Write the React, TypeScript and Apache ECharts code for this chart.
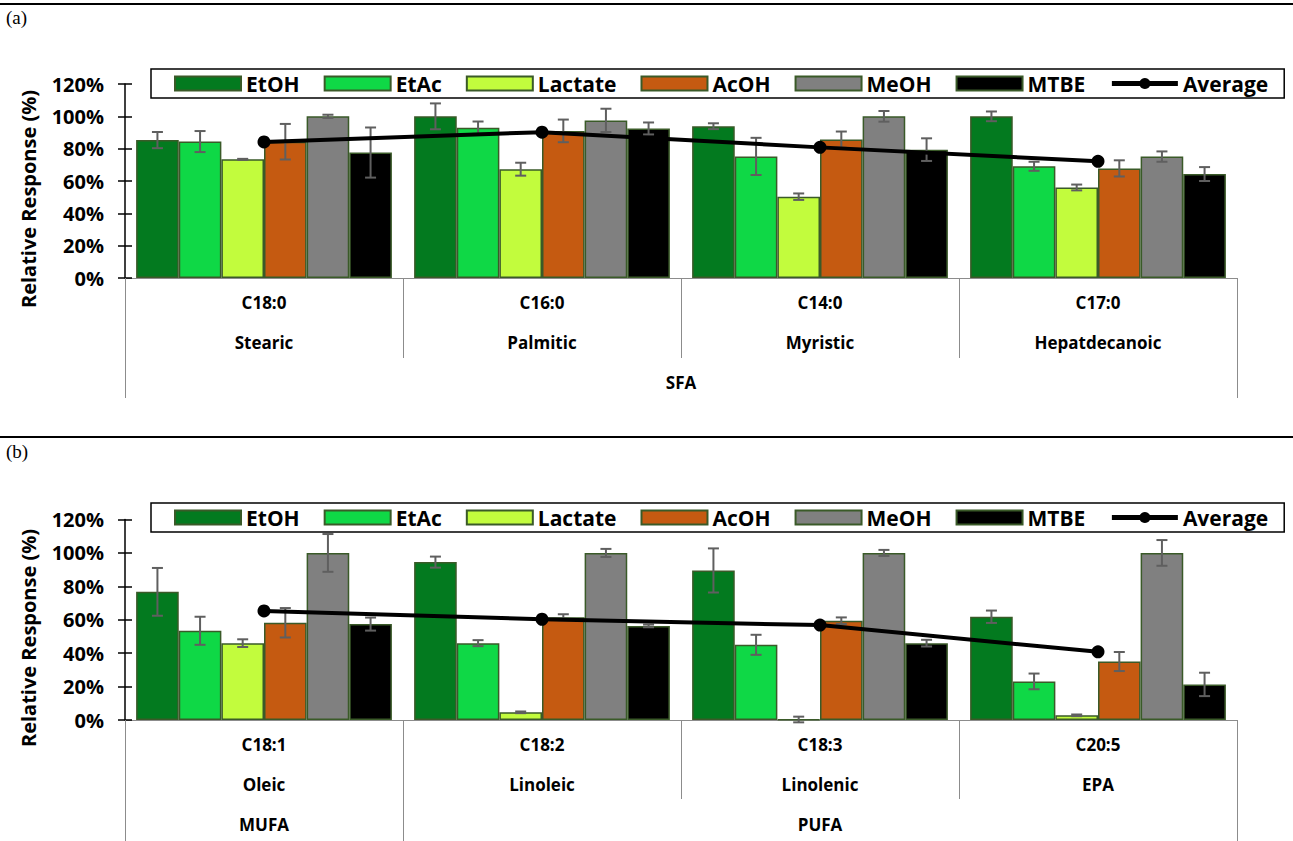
import React, { useEffect, useRef } from "react";
import * as echarts from "echarts";

const FONT = "'Open Sans', Lato, sans-serif";

const solvents = ["EtOH", "EtAc", "Lactate", "AcOH", "MeOH", "MTBE"];
const barColors = ["#037A1F", "#0FD846", "#C2FC3D", "#C55A11", "#808080", "#000000"];

// Panel (a)
const catsA = ["C18:0", "C16:0", "C14:0", "C17:0"];
const namesA = ["Stearic", "Palmitic", "Myristic", "Hepatdecanoic"];
const groupsA = ["SFA"];
const etohA = [85.3, 100, 93.9, 100];
const etacA = [84.4, 93, 75.2, 69.1];
const lactateA = [73.4, 67.3, 50.3, 56];
const acohA = [84.3, 91, 85.6, 67.8];
const meohA = [100, 97.5, 100, 75.1];
const mtbeA = [77.6, 92.5, 79.4, 64.3];
const etohErrA = [5, 8, 1.8, 3];
const etacErrA = [6.5, 3.8, 11.5, 2.8];
const lactateErrA = [0.3, 4, 2, 1.8];
const acohErrA = [11, 7, 5, 5];
const meohErrA = [1, 7.2, 3.3, 3.2];
const mtbeErrA = [15.5, 3.7, 7, 4.3];
const avgA = [84.2, 90.2, 80.8, 72.2];

// Panel (b)
const catsB = ["C18:1", "C18:2", "C18:3", "C20:5"];
const namesB = ["Oleic", "Linoleic", "Linolenic", "EPA"];
const groupsB = ["MUFA", "", "PUFA", ""];
const etohB = [76.7, 94.5, 89.5, 61.8];
const etacB = [53.4, 46, 45, 23.1];
const lactateB = [46, 4.6, 0.3, 2.8];
const acohB = [58.2, 61.5, 59.4, 35];
const meohB = [100, 100, 100, 100];
const mtbeB = [57.4, 56.3, 46, 21.3];
const etohErrB = [14.3, 3.3, 13.2, 3.7];
const etacErrB = [8.4, 1.8, 6, 4.7];
const lactateErrB = [2.3, 0.5, 1.7, 0.5];
const acohErrB = [8.8, 1.8, 2, 5.7];
const meohErrB = [11.3, 2.4, 1.8, 7.7];
const mtbeErrB = [3.9, 0.8, 2, 7];
const avgB = [65.3, 60.3, 56.8, 40.8];

const yTicks = [0, 20, 40, 60, 80, 100, 120];

const CAT_GAP = 0.08;

function buildPanel(p: any) {
  const g = p.gridIndex;
  const xBase = g * 3;
  const yBase = g * 2;
  const xAxes = [
    {
      type: "category",
      gridIndex: g,
      position: "bottom",
      data: p.cats,
      axisLine: { show: true, lineStyle: { color: "#8c8c8c", width: 1 } },
      axisTick: { show: true, interval: 0, length: p.innerTick, lineStyle: { color: "#8c8c8c", width: 1 } },
      axisLabel: { interval: 0, margin: 16, fontSize: 17, fontWeight: "bold", color: "#000", fontFamily: FONT },
      splitLine: { show: false },
    },
    {
      type: "category",
      gridIndex: g,
      position: "bottom",
      data: p.names,
      axisLine: { show: false },
      axisTick: { show: false },
      axisLabel: { interval: 0, margin: 56, fontSize: 17, fontWeight: "bold", color: "#000", fontFamily: FONT },
      splitLine: { show: false },
    },
    {
      type: "category",
      gridIndex: g,
      position: "bottom",
      data: p.groups,
      axisLine: { show: false },
      axisTick: { show: true, interval: p.groupTickInterval, length: p.outerTick, lineStyle: { color: "#8c8c8c", width: 1 } },
      axisLabel: { interval: 0, margin: 96, fontSize: 17, fontWeight: "bold", color: "#000", fontFamily: FONT },
      splitLine: { show: false },
    },
  ];
  const yAxes = [
    {
      type: "value",
      gridIndex: g,
      position: "left",
      min: yTicks[0],
      max: yTicks[yTicks.length - 1],
      interval: 20,
      axisLine: { show: true, lineStyle: { color: "#000", width: 1.5 } },
      axisTick: { show: true, length: 7, lineStyle: { color: "#000", width: 1.5 } },
      axisLabel: { margin: 21, formatter: "{value}%", fontSize: 20, fontWeight: "bold", color: "#000", fontFamily: FONT },
      splitLine: { show: false },
    },
    {
      type: "value",
      gridIndex: g,
      position: "left",
      min: yTicks[0],
      max: yTicks[yTicks.length - 1],
      interval: 20,
      axisLine: { show: false },
      axisTick: { show: true, inside: true, length: 7, lineStyle: { color: "#000", width: 1.5 } },
      axisLabel: { show: false },
      splitLine: { show: false },
    },
  ];
  const series: any[] = [];
  p.values.forEach((vals: number[], k: number) => {
    series.push({
      type: "bar",
      name: solvents[k],
      xAxisIndex: xBase,
      yAxisIndex: yBase,
      data: vals,
      barGap: "0%",
      barCategoryGap: CAT_GAP * 100 + "%",
      itemStyle: { color: barColors[k], borderColor: "#3A5A28", borderWidth: 1.5 },
      z: 2,
    });
  });
  p.values.forEach((vals: number[], k: number) => {
    const errs = p.errs[k];
    series.push({
      type: "custom",
      name: solvents[k] + " err",
      xAxisIndex: xBase,
      yAxisIndex: yBase,
      data: vals.map((v, i) => [i, v, errs[i]]),
      encode: { x: 0, y: 1 },
      z: 3,
      silent: true,
      renderItem: (params: any, api: any) => {
        const cat = api.value(0);
        const v = api.value(1);
        const e = api.value(2);
        const band = api.size([1, 0])[0];
        const bw = (band * (1 - CAT_GAP)) / 6;
        const cx = api.coord([cat, v])[0] + (k - 2.5) * bw;
        const yT = api.coord([cat, v + e])[1];
        const yB = api.coord([cat, v - e])[1];
        const cap = 5.5;
        const st = { stroke: "#5f5f5f", lineWidth: 2 };
        return {
          type: "group",
          children: [
            { type: "line", shape: { x1: cx, y1: yT, x2: cx, y2: yB }, style: st },
            { type: "line", shape: { x1: cx - cap, y1: yT, x2: cx + cap, y2: yT }, style: st },
            { type: "line", shape: { x1: cx - cap, y1: yB, x2: cx + cap, y2: yB }, style: st },
          ],
        };
      },
    });
  });
  series.push({
    type: "line",
    name: "Average",
    xAxisIndex: xBase,
    yAxisIndex: yBase,
    data: p.avg,
    symbol: "circle",
    symbolSize: 13,
    lineStyle: { color: "#000", width: 4 },
    itemStyle: { color: "#000" },
    z: 5,
  });
  return { xAxes, yAxes, series };
}

function legendFor(top: number) {
  return {
    left: 151,
    top,
    orient: "horizontal",
    itemWidth: 66,
    itemHeight: 14,
    itemGap: 24,
    padding: [4, 16, 4, 23],
    borderColor: "#000",
    borderWidth: 1.5,
    backgroundColor: "#fff",
    z: 10,
    textStyle: { fontSize: 21, fontWeight: "bold", color: "#000", fontFamily: FONT },
    data: [
      ...solvents.map((s) => ({ name: s, icon: "rect" })),
      { name: "Average", lineStyle: { width: 5, color: "#000" }, itemStyle: { color: "#000" } },
    ],
  };
}

export default function App() {
  const ref = useRef<HTMLDivElement>(null);
  useEffect(() => {
    if (!ref.current) return;
    const chart = echarts.init(ref.current, null, { renderer: "svg" });
    const pa = buildPanel({
      gridIndex: 0,
      cats: catsA,
      names: namesA,
      groups: groupsA,
      values: [etohA, etacA, lactateA, acohA, meohA, mtbeA],
      errs: [etohErrA, etacErrA, lactateErrA, acohErrA, meohErrA, mtbeErrA],
      avg: avgA,
      innerTick: 80,
      outerTick: 120,
      groupTickInterval: 0,
    });
    const pb = buildPanel({
      gridIndex: 1,
      cats: catsB,
      names: namesB,
      groups: groupsB,
      values: [etohB, etacB, lactateB, acohB, meohB, mtbeB],
      errs: [etohErrB, etacErrB, lactateErrB, acohErrB, meohErrB, mtbeErrB],
      avg: avgB,
      innerTick: 79,
      outerTick: 122,
      groupTickInterval: (i: number) => i <= 1,
    });
    const option: any = {
      animation: false,
      backgroundColor: "#fff",
      grid: [
        { left: 125, width: 1112, top: 84, height: 194 },
        { left: 125, width: 1112, top: 519.5, height: 200.5 },
      ],
      xAxis: [...pa.xAxes, ...pb.xAxes],
      yAxis: [...pa.yAxes, ...pb.yAxes],
      legend: [legendFor(69), legendFor(503)],
      series: [...pa.series, ...pb.series],
      graphic: [
        { type: "rect", shape: { x: 0, y: 3, width: 1293, height: 2 }, style: { fill: "#000" } },
        { type: "rect", shape: { x: 0, y: 436, width: 1293, height: 2 }, style: { fill: "#000" } },
        {
          type: "text", x: 6, y: 8,
          style: { text: "(a)", fontSize: 19, fontFamily: "'Liberation Serif', 'DejaVu Serif', serif", fill: "#000" },
        },
        {
          type: "text", x: 6, y: 442,
          style: { text: "(b)", fontSize: 19, fontFamily: "'Liberation Serif', 'DejaVu Serif', serif", fill: "#000" },
        },
        {
          type: "text", x: 28, y: 199, rotation: Math.PI / 2,
          style: { text: "Relative Response (%)", fontSize: 20, fontWeight: "bold", fontFamily: FONT, fill: "#000", align: "center", verticalAlign: "middle" },
        },
        {
          type: "text", x: 28, y: 638, rotation: Math.PI / 2,
          style: { text: "Relative Response (%)", fontSize: 20, fontWeight: "bold", fontFamily: FONT, fill: "#000", align: "center", verticalAlign: "middle" },
        },
      ],
    };
    chart.setOption(option);
    return () => chart.dispose();
  }, []);
  return (
    <div
      ref={ref}
      style={{ position: "absolute", left: 0, top: 0, width: 1293, height: 841, background: "#fff" }}
    />
  );
}
